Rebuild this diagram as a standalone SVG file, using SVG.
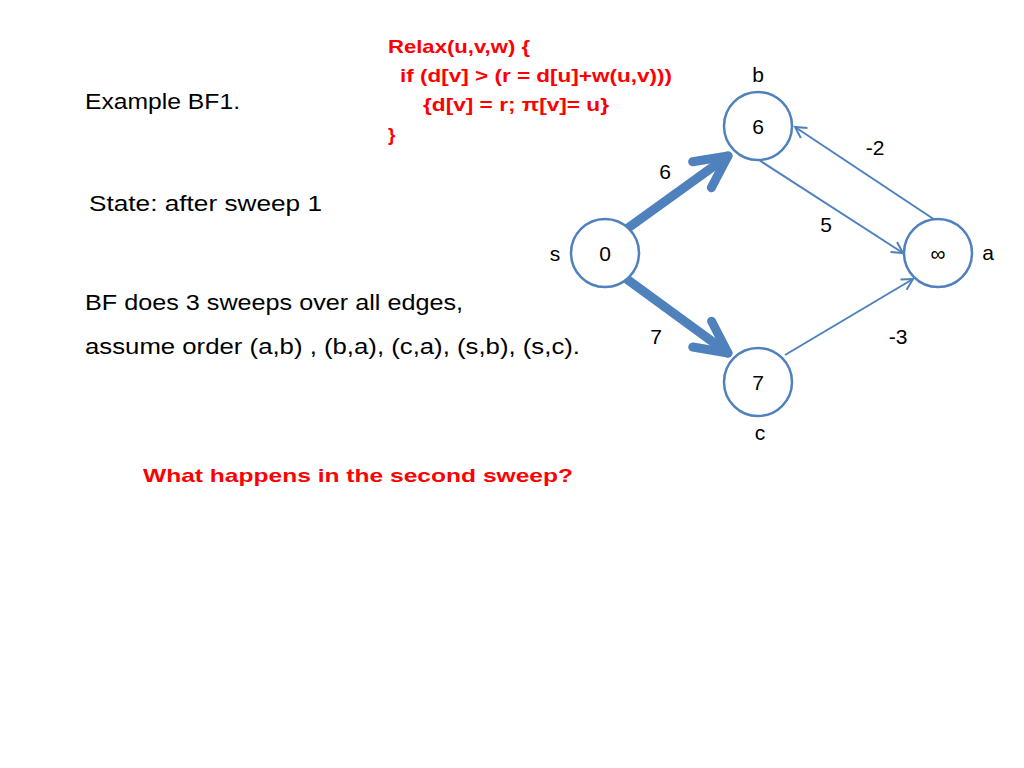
<svg xmlns="http://www.w3.org/2000/svg" width="1024" height="768" viewBox="0 0 1024 768">
<style>
.t{font-family:"Liberation Sans",Arial,sans-serif;fill:#000;font-size:22.5px}
.r{font-family:"Liberation Sans",Arial,sans-serif;fill:#f00;font-size:19px;font-weight:bold}
.n{font-family:"Liberation Sans",Arial,sans-serif;fill:#000;font-size:21px;text-anchor:middle}
.c{fill:#fff;stroke:#4f81bd;stroke-width:2.5}
.e{stroke:#4f81bd;stroke-width:2;fill:none}
.E{stroke:#4f81bd;stroke-width:9;fill:none;stroke-linecap:round}
</style>
<defs>
<marker id="thin" markerUnits="userSpaceOnUse" viewBox="-2 -2 16 16" markerWidth="16" markerHeight="16" refX="11" refY="6" orient="auto">
<path d="M0,0 L11,6 L0,12" fill="none" stroke="#4f81bd" stroke-width="2"/>
</marker>
<marker id="thick" markerUnits="userSpaceOnUse" viewBox="-10 -10 50 60" markerWidth="50" markerHeight="60" refX="32" refY="20" orient="auto">
<path d="M0,4 L32,20 L0,36" fill="none" stroke="#4f81bd" stroke-width="9" stroke-linecap="round" stroke-linejoin="round"/>
</marker>
</defs>
<rect width="1024" height="768" fill="#fff"/>
<text class="t" x="85" y="109" textLength="155" lengthAdjust="spacingAndGlyphs">Example BF1.</text>
<text class="t" x="89" y="211" textLength="233" lengthAdjust="spacingAndGlyphs">State: after sweep 1</text>
<text class="t" x="85" y="310" textLength="378" lengthAdjust="spacingAndGlyphs">BF does 3 sweeps over all edges,</text>
<text class="t" x="85" y="354" textLength="495" lengthAdjust="spacingAndGlyphs">assume order (a,b) , (b,a), (c,a), (s,b), (s,c).</text>
<g id="code">
<text class="r" x="388" y="53" textLength="142" lengthAdjust="spacingAndGlyphs">Relax(u,v,w) {</text>
<text class="r" x="400" y="82" textLength="272" lengthAdjust="spacingAndGlyphs">if (d[v] &gt; (r = d[u]+w(u,v)))</text>
<text class="r" x="423" y="111" textLength="186" lengthAdjust="spacingAndGlyphs">{d[v] = r;  π[v]= u}</text>
<text class="r" x="388" y="141">}</text>
</g>
<text class="r" x="143" y="482" font-size="22.5" textLength="430" lengthAdjust="spacingAndGlyphs">What happens in the second sweep?</text>
<g id="connectors">
<line class="E" x1="628" y1="228" x2="728" y2="156" marker-end="url(#thick)"/>
<line class="E" x1="628" y1="280" x2="728" y2="353" marker-end="url(#thick)"/>
<line class="e" x1="759" y1="160" x2="903" y2="253" marker-end="url(#thin)"/>
<line class="e" x1="935" y1="220" x2="795" y2="127" marker-end="url(#thin)"/>
<line class="e" x1="785" y1="355" x2="913" y2="279" marker-end="url(#thin)"/>
<text class="n" x="665" y="179">6</text>
<text class="n" x="826" y="232">5</text>
<text class="n" x="875" y="155">-2</text>
<text class="n" x="656" y="344">7</text>
<text class="n" x="898" y="344">-3</text>
</g>
<g id="node-b">
<circle class="c" cx="758" cy="126" r="34"/>
<text class="n" x="758" y="134">6</text>
<text class="n" x="758" y="82">b</text>
</g>
<g id="node-s">
<circle class="c" cx="605" cy="253" r="34"/>
<text class="n" x="605" y="261">0</text>
<text class="n" x="555" y="261">s</text>
</g>
<g id="node-a">
<circle class="c" cx="938" cy="253" r="34"/>
<text class="n" x="938" y="261" font-size="26">∞</text>
<text class="n" x="988" y="260">a</text>
</g>
<g id="node-c">
<circle class="c" cx="758" cy="382" r="34"/>
<text class="n" x="758" y="390">7</text>
<text class="n" x="760" y="440">c</text>
</g>
</svg>
